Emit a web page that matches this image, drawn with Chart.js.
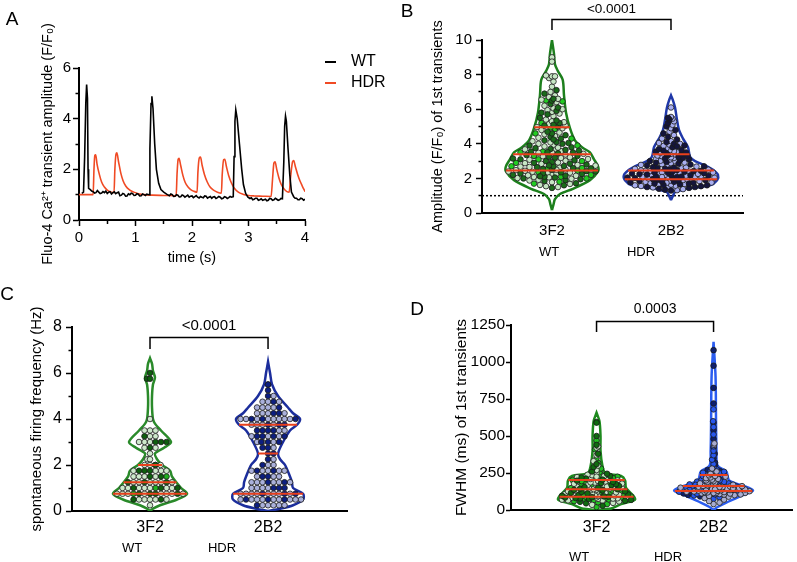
<!DOCTYPE html>
<html>
<head>
<meta charset="utf-8">
<script src="https://cdn.jsdelivr.net/npm/chart.js@4.4.1/dist/chart.umd.min.js"></script>
<style>
  body { margin: 0; background: #fff; }
  #wrap { position: relative; width: 797px; height: 562px; overflow: hidden; }
  canvas { position: absolute; }
</style>
</head>
<body>
<div id="wrap">
  <canvas id="cA" width="400" height="280" style="left:0;top:0"></canvas>
  <canvas id="cB" width="397" height="280" style="left:400px;top:0"></canvas>
  <canvas id="cC" width="400" height="282" style="left:0;top:280px"></canvas>
  <canvas id="cD" width="397" height="282" style="left:400px;top:280px"></canvas>
</div>
<script>
// ---------- panel A: example traces ----------
const wtTime = [0.05,0.08,0.10,0.12,0.135,0.15,0.16,0.17,0.2,0.225,0.25,0.275,0.3,0.325,0.35,0.375,0.4,0.425,0.45,0.475,0.5,0.525,0.55,0.575,0.6,0.625,0.65,0.675,0.7,0.725,0.75,0.775,0.8,0.825,0.85,0.875,0.9,0.925,0.95,0.975,1.0,1.025,1.05,1.075,1.1,1.125,1.15,1.175,1.2,1.24,1.255,1.275,1.29,1.31,1.34,1.37,1.41,1.45,1.5,1.55,1.6,1.625,1.65,1.675,1.7,1.725,1.75,1.775,1.8,1.825,1.85,1.875,1.9,1.925,1.95,1.975,2.0,2.025,2.05,2.075,2.1,2.125,2.15,2.175,2.2,2.225,2.25,2.275,2.3,2.325,2.35,2.375,2.4,2.425,2.45,2.475,2.5,2.525,2.55,2.575,2.6,2.625,2.65,2.675,2.7,2.73,2.745,2.76,2.775,2.8,2.84,2.88,2.91,2.95,2.99,3.025,3.05,3.075,3.1,3.125,3.15,3.175,3.2,3.225,3.25,3.275,3.3,3.325,3.35,3.375,3.4,3.425,3.45,3.475,3.5,3.525,3.55,3.575,3.6,3.625,3.64,3.655,3.67,3.7,3.73,3.76,3.8,3.825,3.85,3.875,3.9,3.925,3.95,3.975,4.0];
const wtAmp  = [1.05,1.1,2.5,4.6,5.35,4.8,2.0,1.25,1.2,1.14,1.12,1.06,1.08,1.16,1.1,1.04,1.06,1.12,1.08,1.14,1.05,1.1,1.12,1.03,1.08,1.11,1.04,1.08,1.1,0.96,0.98,1.05,1.02,0.94,0.95,1.03,1.0,1.06,1.04,0.97,0.98,1.04,1.02,0.95,0.96,1.03,1.0,0.97,1.02,1.0,2.8,4.6,4.88,4.4,3.0,2.0,1.45,1.2,1.1,1.02,0.96,1.03,1.0,0.93,0.94,1.0,0.98,0.91,0.92,0.99,0.96,0.9,0.94,0.98,0.9,0.94,0.95,0.88,0.92,0.96,0.9,0.87,0.93,0.9,0.88,0.95,0.94,0.86,0.9,0.93,0.86,0.91,0.92,0.85,0.88,0.93,0.9,0.84,0.86,0.92,0.9,0.85,0.88,0.93,0.9,0.92,2.5,3.9,4.35,4.0,3.0,2.0,1.4,1.05,0.9,0.85,0.88,0.8,0.82,0.86,0.86,0.78,0.8,0.84,0.78,0.8,0.82,0.76,0.78,0.85,0.84,0.78,0.8,0.86,0.82,0.78,0.8,0.85,0.84,2.3,3.7,4.1,3.9,2.8,1.8,1.1,0.92,0.86,0.86,0.8,0.8,0.86,0.84,0.78,0.82];
const hdrTime = [0,0.25,0.265,0.28,0.295,0.32,0.36,0.4,0.45,0.5,0.55,0.62,0.635,0.655,0.67,0.7,0.74,0.78,0.83,0.9,0.97,1.05,1.15,1.3,1.5,1.72,1.735,1.755,1.77,1.8,1.84,1.88,1.93,1.99,2.05,2.09,2.105,2.13,2.15,2.18,2.22,2.27,2.32,2.38,2.45,2.52,2.535,2.56,2.58,2.61,2.65,2.7,2.75,2.82,2.9,3.0,3.1,3.25,3.4,3.425,3.45,3.47,3.5,3.54,3.58,3.63,3.68,3.72,3.745,3.78,3.8,3.83,3.87,3.91,3.95,4.0];
const hdrAmp  = [1.0,1.0,2.0,2.55,2.57,2.2,1.8,1.5,1.3,1.18,1.12,1.08,2.0,2.6,2.65,2.3,1.85,1.55,1.33,1.18,1.1,1.04,1.0,0.98,0.97,0.96,1.8,2.4,2.44,2.15,1.75,1.48,1.3,1.18,1.12,1.1,1.9,2.45,2.48,2.15,1.8,1.5,1.3,1.18,1.1,1.06,1.8,2.38,2.4,2.1,1.75,1.45,1.25,1.1,1.02,0.97,0.95,0.94,0.93,1.6,2.25,2.3,2.0,1.65,1.4,1.22,1.12,1.1,1.7,2.3,2.35,2.1,1.8,1.55,1.35,1.12];

const groupNames = ['3F2', '2B2'];

// ---------- panel B: amplitude of 1st transients ----------
const ampWtDark = [1.45,1.6,1.72,1.85,1.9,2.0,2.05,2.1,2.15,2.2,2.25,2.3,2.35,2.4,2.42,1.95,2.12,2.28,
  2.5,2.55,2.6,2.65,2.7,2.72,2.8,2.85,2.9,2.95,3.0,3.05,3.1,3.2,3.25,3.3,3.35,2.58,2.75,3.15,
  3.45,3.5,3.55,3.6,3.7,3.75,3.8,3.9,4.0,4.1,4.2,4.3,4.4,4.5,4.6,4.7,3.52,3.65,4.05,4.25,
  5.0,5.1,5.2,5.35,5.5,5.7,5.9,6.1,6.3,6.5,6.6,6.9,7.1,5.05,5.8];
const ampWtPale = [1.5,1.55,1.68,1.78,1.88,1.98,2.02,2.08,2.18,2.22,2.3,2.38,2.44,1.62,2.15,2.33,2.26,1.92,2.06,2.4,
  2.48,2.52,2.62,2.68,2.74,2.78,2.88,2.92,3.02,3.08,3.12,3.18,3.28,3.38,2.5,2.66,2.84,3.22,
  3.42,3.48,3.58,3.62,3.68,3.78,3.85,3.95,4.08,4.15,4.35,4.45,4.55,4.65,4.8,4.9,3.5,4.0,
  4.97,5.05,5.15,5.25,5.4,5.6,5.75,5.85,5.95,6.05,6.2,6.4,6.55,6.7,6.8,7.0,7.3,7.6,7.8,7.9,7.95,7.9,9.0,8.75,6.6,5.3,6.0];
const ampWtBright = [1.8,2.1,2.36,2.2,1.7,2.44,2.0,2.6,2.9,3.3,2.7,3.1,2.55,3.0,3.55,3.5,4.3,4.85,3.9,4.6,4.95,5.2,6.5,6.45];
const ampHdrDark = [1.3,1.35,1.4,1.45,1.5,1.55,1.6,1.65,1.7,1.75,1.8,1.85,1.9,1.92,1.62,1.78,1.88,1.5,1.7,1.82,
  1.96,2.0,2.02,2.05,2.08,2.1,2.12,2.15,2.18,2.2,2.22,2.25,2.28,2.3,2.32,2.35,2.38,2.4,2.42,2.44,
  2.48,2.52,2.56,2.6,2.65,2.7,2.75,2.8,2.85,2.9,2.95,3.0,3.05,3.1,3.15,3.2,3.25,3.3,3.35,2.62,
  3.4,3.45,3.5,3.55,3.6,3.7,3.8,3.9,4.0,4.1,4.25,4.4,4.6,4.8,5.0,5.2,5.4,5.5,3.65,3.85];
const ampHdrLav = [1.32,1.42,1.48,1.52,1.58,1.64,1.68,1.72,1.76,1.8,1.84,1.86,1.9,1.94,1.6,1.74,1.66,1.56,1.38,1.93,
  1.98,2.0,2.04,2.06,2.1,2.12,2.14,2.16,2.2,2.22,2.24,2.26,2.28,2.3,2.34,2.36,2.4,2.42,2.44,2.08,
  2.46,2.5,2.55,2.58,2.63,2.68,2.72,2.78,2.82,2.88,2.92,2.98,3.02,3.08,3.12,3.18,3.22,3.28,3.32,3.38,
  3.42,3.48,3.52,3.58,3.62,3.75,3.88,3.95,4.05,4.15,4.3,4.5,4.7,4.9,5.1,5.3,5.45,5.55,6.1,4.0];
const ampWtQuart = [2.45, 3.4, 4.95];
const ampHdrQuart = [1.95, 2.45, 3.39];
const ampWtViolinY = [0.17,0.5,0.8,1.1,1.4,1.9,2.4,2.7,3.1,3.5,3.8,4.2,4.9,5.8,6.8,7.7,8.2,8.6,9.2,10];
const ampWtViolinW = [0,0.013,0.025,0.067,0.176,0.319,0.387,0.387,0.353,0.319,0.252,0.193,0.151,0.118,0.101,0.09,0.05,0.025,0.017,0];
const ampHdrViolinY = [0.75,1.0,1.2,1.4,1.6,1.9,2.2,2.5,2.7,3.0,3.25,3.8,4.3,4.8,5.4,6.1,6.5,6.8];
const ampHdrViolinW = [0,0.017,0.034,0.134,0.328,0.387,0.395,0.353,0.303,0.202,0.16,0.143,0.101,0.067,0.05,0.034,0.017,0];

// ---------- panel C: spontaneous firing frequency ----------
const freqWtDark = [0.5,0.5,0.75,0.75,0.75,0.75,1,1,1,1.25,1.25,1.25,1.5,1.5,1.75,1.75,1.75,2,2.75,3,3,3,3.25,5.75,5.75,6];
const freqWtBright = [0.75,1,1.5];
const freqWtPale = [0.25,0.5,0.5,0.5,0.5,0.5,0.75,0.75,0.75,0.75,0.75,0.75,0.75,0.75,1,1,1,1,1,1,1,
  1.25,1.25,1.25,1.25,1.25,1.25,1.5,1.5,1.5,1.5,1.75,1.75,1.75,1.75,2,2,2,2,2.25,2.25,2.5,2.75,2.75,
  3,3,3,3.25,3.25,3.5,3.5,3.5,4];
const freqHdrNavy = [0.25,0.5,0.5,0.5,0.75,0.75,0.75,1,1,1,1.25,1.25,1.5,1.5,1.75,1.75,2,2.25,2.5,2.5,2.75,2.75,
  3,3,3,3.25,3.25,3.25,3.25,3.5,3.5,3.5,3.5,3.75,3.75,3.75,4,4,4,4.25,4.25,4.5,4.75,5,5.25,5.5,5.5];
const freqHdrLav = [0.25,0.25,0.25,0.25,0.25,0.5,0.5,0.5,0.5,0.5,0.5,0.5,0.5,0.5,0.75,0.75,0.75,0.75,0.75,0.75,0.75,0.75,
  1,1,1,1,1.25,1.25,1.25,1.25,1.25,1.25,1.5,1.5,1.5,1.75,1.75,1.75,1.75,1.75,2,2,2.25,2.75,
  3,3,3,3.25,3.25,3.25,3.5,3.5,3.75,3.75,3.75,3.75,4,4,4,4,4,4,4,4,4.25,4.25,4.25,4.25,4.5,4.5,4.5,4.5,4.75,4.75,4.75,5];
const freqWtQuart = [0.75, 1.25, 2.0];
const freqHdrQuart = [0.75, 2.5, 3.75];
const freqWtViolinY = [0,0.1,0.25,0.5,0.75,1.0,1.5,1.75,2.0,2.25,2.5,2.75,3.0,3.5,3.8,4.0,4.5,5.0,5.5,5.8,6.1,6.4,6.64];
const freqWtViolinW = [0,0.025,0.085,0.229,0.314,0.263,0.186,0.17,0.102,0.059,0.042,0.119,0.178,0.093,0.042,0.025,0.017,0.017,0.025,0.042,0.025,0.017,0];
const freqHdrViolinY = [0,0.1,0.25,0.5,0.75,1.0,1.25,1.5,2.0,2.25,2.5,3.0,3.5,3.75,4.0,4.25,4.5,5.0,5.5,6.0,6.49];
const freqHdrViolinW = [0,0.102,0.212,0.297,0.297,0.212,0.203,0.186,0.144,0.102,0.085,0.127,0.186,0.246,0.271,0.212,0.169,0.085,0.034,0.017,0];

// ---------- panel D: FWHM of 1st transients ----------
const fwhmWtDark = [28,45,55,62,68,74,78,81,84,87,90,92,96,102,106,112,116,122,126,132,136,140,144,150,155,162,168,175,182,190,198,205,212,220,230,245,260,290,310,380,440,500,590];
const fwhmWtBright = [20,40,52,60,66,72,76,80,83,86,89,91,95,100,105,110,115,120,125,130,135,139,142,148,154,160,165,172,180,188,195,202,208,218,225,240,255,280,320,350,410,470,595,215];
const fwhmWtPale = [35,48,58,64,70,75,79,82,85,88,65,77,84,94,98,104,108,114,118,124,128,134,138,97,103,111,119,127,133,
  141,145,147,152,157,164,170,178,185,192,200,146,158,167,177,187,196,201,210,215,222,228,235,250,270,300,330,370,420,430,225,238];
const fwhmHdrLav = [40,50,60,70,80,90,95,100,104,108,111,113,115,117,119,121,123,125,127,105,115,121,
  129,131,133,135,137,139,141,143,145,147,149,151,153,155,157,159,161,132,140,148,156,
  163,167,171,175,180,185,190,195,200,205,210,215,220,225,230,234,245,260,280,440,450];
const fwhmHdrBlue = [75,85,98,106,110,116,120,124,128,109,118,124,130,134,138,142,146,150,154,158,162,136,144,152,160,
  165,169,173,177,182,188,192,198,203,208,212,218,222,228,232,236,170,180,190,200,210,220,230,175,185,195,
  238,242,248,252,258,262,268,275,290,310,340,370,400,430,510,560,600,680,255];
const fwhmHdrNavy = [92,102,112,114,122,126,240,250,265,270,300,320,350,380,420,480,540,590,720,825,975,1080];
const fwhmWtQuart = [90, 140, 203];
const fwhmHdrQuart = [128, 162, 236];
const fwhmWtViolinY = [0,5,10,40,70,100,150,200,230,250,300,400,500,600,657];
const fwhmWtViolinW = [0,0.067,0.126,0.21,0.328,0.311,0.252,0.244,0.21,0.076,0.05,0.034,0.034,0.025,0];
const fwhmHdrViolinY = [0,20,50,100,130,150,200,260,300,400,600,900,1137];
const fwhmHdrViolinW = [0,0.034,0.109,0.252,0.336,0.303,0.134,0.109,0.034,0.025,0.021,0.017,0];

// ---------- drawing ----------
const FONT = '"Liberation Sans", Arial, Helvetica, sans-serif';
const RED = '#e8401c';
Chart.defaults.font.family = FONT;
Chart.defaults.color = '#000';

// texts, legend lines and significance bracket
const annot = {
  id: 'annot',
  afterDraw(chart, args, o) {
    const ctx = chart.ctx;
    ctx.save();
    (o.lines || []).forEach(l => {
      ctx.strokeStyle = l.color; ctx.lineWidth = l.width;
      ctx.beginPath(); ctx.moveTo(l.x1, l.y1); ctx.lineTo(l.x2, l.y2); ctx.stroke();
    });
    (o.texts || []).forEach(t => {
      ctx.font = t.size + 'px ' + FONT;
      ctx.fillStyle = '#000';
      ctx.textAlign = t.align || 'center';
      ctx.textBaseline = 'middle';
      ctx.fillText(t.text, t.x, t.y);
    });
    if (o.bracket) {
      const b = o.bracket, xs = chart.scales.x, ys = chart.scales.y;
      const x1 = xs.getPixelForValue(1), x2 = xs.getPixelForValue(2);
      const yt = Math.round(ys.getPixelForValue(b.top)) + 0.5, yl = ys.getPixelForValue(b.leg);
      ctx.strokeStyle = '#000'; ctx.lineWidth = 1.5;
      ctx.beginPath(); ctx.moveTo(x1, yl); ctx.lineTo(x1, yt); ctx.lineTo(x2, yt); ctx.lineTo(x2, yl); ctx.stroke();
      ctx.font = b.size + 'px ' + FONT;
      ctx.fillStyle = '#000'; ctx.textAlign = 'center'; ctx.textBaseline = 'alphabetic';
      ctx.fillText(b.text, (x1 + x2) / 2, yt - b.gap);
    }
    ctx.restore();
  }
};
Chart.register(annot);

function pts(xs, ys) { return xs.map((x, i) => ({x, y: ys[i]})); }

// panel A
new Chart(document.getElementById('cA'), {
  type: 'scatter',
  data: {
    datasets: [
      { data: pts(wtTime, wtAmp), showLine: true, pointRadius: 0, borderColor: '#000', borderWidth: 1.6, tension: 0, order: 0 },
      { data: pts(hdrTime, hdrAmp), showLine: true, pointRadius: 0, borderColor: '#f04a24', borderWidth: 1.6, cubicInterpolationMode: 'monotone', order: 1 }
    ]
  },
  options: {
    responsive: false, animation: false, events: [],
    layout: { padding: { left: 39, top: 68, right: 95, bottom: 13 } },
    plugins: {
      legend: { display: false }, tooltip: { enabled: false },
      annot: {
        texts: [
          { text: 'A', x: 12, y: 20, size: 19 },
          { text: 'WT', x: 351, y: 62, size: 16, align: 'left' },
          { text: 'HDR', x: 351, y: 83, size: 16, align: 'left' }
        ],
        lines: [
          { x1: 325, y1: 62, x2: 336, y2: 62, color: '#000', width: 2 },
          { x1: 325, y1: 83, x2: 336, y2: 83, color: '#f04a24', width: 2 }
        ]
      }
    },
    scales: {
      x: {
        type: 'linear', min: 0, max: 4,
        afterFit: s => { s.height = 47; },
        ticks: { stepSize: 0.5, autoSkip: false, maxRotation: 0, font: { size: 15 }, padding: 3,
                 callback: v => Number.isInteger(v) ? v : '' },
        grid: { drawOnChartArea: false, tickLength: 6, tickColor: '#000', tickWidth: 1.5,
                tickBorderDash: c => (c.tick && !Number.isInteger(c.tick.value)) ? [3, 20] : [] },
        border: { color: '#000', width: 2 },
        title: { display: true, text: 'time (s)', font: { size: 14.5 }, padding: 0 }
      },
      y: {
        min: 0, max: 6,
        afterFit: s => { s.width = 40; },
        ticks: { stepSize: 1, autoSkip: false, font: { size: 15 }, padding: 2,
                 callback: v => v % 2 ? '' : v },
        grid: { drawOnChartArea: false, tickLength: 6, tickColor: '#000', tickWidth: 1.5,
                tickBorderDash: c => (c.tick && c.tick.value % 2) ? [0, 2.5, 3, 20] : [] },
        border: { color: '#000', width: 2 },
        title: { display: true, text: 'Fluo-4 Ca²⁺ transient amplitude (F/F₀)', font: { size: 14.5 }, padding: 0 }
      }
    }
  }
});

function widthAt(vy, vw, v) {
  if (v <= vy[0] || v >= vy[vy.length - 1]) return 0;
  for (let i = 1; i < vy.length; i++) {
    if (v <= vy[i]) {
      const f = (v - vy[i - 1]) / (vy[i] - vy[i - 1]);
      return vw[i - 1] + f * (vw[i] - vw[i - 1]);
    }
  }
  return 0;
}

// spread the dots sideways inside each violin, in pixels of the chart's own scales
function swarm(chart, groups, sw) {
  const xs = chart.scales.x, ys = chart.scales.y;
  const ppu = xs.getPixelForValue(2) - xs.getPixelForValue(1);
  groups.forEach(g => {
    const items = [];
    g.idx.forEach(di => chart.data.datasets[di].data.forEach((pt, j) => {
      items.push({ pt, v: pt.y, py: ys.getPixelForValue(pt.y), key: (j * 7 + di * 3) % 11 });
    }));
    items.sort((a, b) => a.v - b.v || a.key - b.key);
    const placed = [];
    items.forEach(it => {
      const lim = Math.max(0, widthAt(g.vy, g.vw, it.v) * ppu - sw.inset);
      let dx = null;
      for (const md of [sw.dist, sw.dist * 0.7, sw.dist * 0.4]) {
        for (let k = 0; ; k++) {
          const m = Math.ceil(k / 2) * sw.step;
          if (m > lim) break;
          const off = k % 2 ? m : -m;
          let ok = true;
          for (const q of placed) {
            const dy = q.py - it.py;
            if (Math.abs(dy) < md && Math.hypot(q.dx - off, dy) < md) { ok = false; break; }
          }
          if (ok) { dx = off; break; }
        }
        if (dx !== null) break;
      }
      if (dx === null) dx = ((placed.length % 5) - 2) * lim / 2;
      placed.push({ dx, py: it.py });
      it.pt.x = g.center + dx / ppu;
    });
  });
  chart.update('none');
}

function violinChart(id, p) {
  const datasets = [];
  const groups = [];
  p.groups.forEach((g, gi) => {
    const center = gi + 1;
    g.quart.forEach(q => {
      const w = widthAt(g.vy, g.vw, q);
      datasets.push({ data: [{ x: center - w, y: q }, { x: center + w, y: q }], showLine: true,
        pointRadius: 0, borderColor: RED, borderWidth: 2, order: 0 });
    });
    const idx = [];
    g.sets.forEach(s => {
      idx.push(datasets.length);
      datasets.push({ data: s.values.map(v => ({ x: center, y: v })), showLine: false,
        pointRadius: p.r, pointBackgroundColor: s.color, pointBorderColor: '#1b1b1b',
        pointBorderWidth: 0.8, order: 1 });
    });
    groups.push({ center, vy: g.vy, vw: g.vw, idx });
    const outline = g.vy.map((y, i) => ({ x: center + g.vw[i], y }))
      .concat(g.vy.map((y, i) => ({ x: center - g.vw[i], y })).reverse());
    datasets.push({ data: outline, showLine: true, pointRadius: 0, borderColor: g.vcolor,
      borderWidth: 2.5, tension: 0.3, order: 5 });
  });
  if (p.refLine != null) {
    datasets.push({ data: [{ x: p.xMin, y: p.refLine }, { x: p.xMax, y: p.refLine }], showLine: true,
      pointRadius: 0, borderColor: '#000', borderWidth: 1.5, borderDash: [2, 2], order: 6 });
  }
  const chart = new Chart(document.getElementById(id), {
    type: 'scatter',
    data: { datasets },
    options: {
      responsive: false, animation: false, events: [],
      layout: { padding: p.pad },
      plugins: { legend: { display: false }, tooltip: { enabled: false }, annot: p.annot },
      scales: {
        x: {
          type: 'linear', min: p.xMin, max: p.xMax,
          afterFit: s => { s.height = p.xH; },
          afterBuildTicks: s => { s.ticks = [{ value: 1 }, { value: 2 }]; },
          ticks: { font: { size: p.xFont }, padding: p.xPad, maxRotation: 0, callback: v => groupNames[v - 1] },
          grid: { display: false, drawTicks: false },
          border: { color: '#000', width: 2 }
        },
        y: {
          min: 0, max: p.yMax,
          afterFit: s => { s.width = p.yW; },
          ticks: { stepSize: p.yStep, autoSkip: false, font: { size: p.yFont }, padding: p.yPad,
                   callback: v => (p.yMajor && v % p.yMajor) ? '' : v },
          grid: { drawOnChartArea: false, tickLength: p.tl, tickColor: '#000', tickWidth: 1.5,
                  tickBorderDash: c => (p.yMajor && c.tick && c.tick.value % p.yMajor) ? [0, 2.5, 3, 20] : [] },
          border: { color: '#000', width: 2 },
          title: { display: true, text: p.yTitle, font: { size: p.titleFont }, padding: 0 }
        }
      }
    }
  });
  swarm(chart, groups, p.swarm);
  return chart;
}

// panel B
violinChart('cB', {
  pad: { left: 29, top: 40, right: 54, bottom: 0 },
  xMin: 0.412, xMax: 2.605, xH: 67, xFont: 15, xPad: 9,
  yMax: 10, yStep: 1, yMajor: 2, yW: 53, yFont: 15, yPad: 4, tl: 6,
  yTitle: 'Amplitude (F/F₀) of 1st transients', titleFont: 14.5,
  r: 2.8, refLine: 1,
  swarm: { step: 1.5, dist: 5.2, inset: 2 },
  groups: [
    { vy: ampWtViolinY, vw: ampWtViolinW, vcolor: '#1d7f1d', quart: ampWtQuart,
      sets: [{ values: ampWtDark, color: '#1a6b1a' }, { values: ampWtPale, color: '#c6e6c4' }, { values: ampWtBright, color: '#22cc22' }] },
    { vy: ampHdrViolinY, vw: ampHdrViolinW, vcolor: '#2038a8', quart: ampHdrQuart,
      sets: [{ values: ampHdrDark, color: '#15153c' }, { values: ampHdrLav, color: '#a8aef0' }] }
  ],
  annot: {
    texts: [
      { text: 'B', x: 7, y: 12, size: 19 },
      { text: 'WT', x: 149, y: 252, size: 13 },
      { text: 'HDR', x: 241, y: 252, size: 13 }
    ],
    bracket: { top: 11.21, leg: 10.58, text: '<0.0001', size: 13.5, gap: 7 }
  }
});

// panel C
violinChart('cC', {
  pad: { left: 28, top: 47, right: 53, bottom: 0 },
  xMin: 0.339, xMax: 2.669, xH: 51, xFont: 16, xPad: 7,
  yMax: 8, yStep: 1, yMajor: 2, yW: 44, yFont: 16, yPad: 4, tl: 6,
  yTitle: 'spontaneous firing frequency (Hz)', titleFont: 15,
  r: 2.8, refLine: null,
  swarm: { step: 5.5, dist: 5.5, inset: 1.5 },
  groups: [
    { vy: freqWtViolinY, vw: freqWtViolinW, vcolor: '#2a8a2a', quart: freqWtQuart,
      sets: [{ values: freqWtDark, color: '#0e5e0e' }, { values: freqWtPale, color: '#cde8cb' }, { values: freqWtBright, color: '#20b020' }] },
    { vy: freqHdrViolinY, vw: freqHdrViolinW, vcolor: '#1c2e9c', quart: freqHdrQuart,
      sets: [{ values: freqHdrNavy, color: '#0d1e80' }, { values: freqHdrLav, color: '#aab0da' }] }
  ],
  annot: {
    texts: [
      { text: 'C', x: 7, y: 15, size: 19 },
      { text: 'WT', x: 132, y: 268, size: 13 },
      { text: 'HDR', x: 222, y: 268, size: 13 }
    ],
    bracket: { top: 7.57, leg: 7.04, text: '<0.0001', size: 15, gap: 8 }
  }
});

// panel D
violinChart('cD', {
  pad: { left: 52, top: 45, right: 0, bottom: 0 },
  xMin: 0.269, xMax: 2.672, xH: 52, xFont: 16, xPad: 8,
  yMax: 1250, yStep: 250, yMajor: 0, yW: 59, yFont: 15.5, yPad: 1, tl: 5,
  yTitle: 'FWHM (ms) of 1st transients', titleFont: 15.5,
  r: 2.8, refLine: null,
  swarm: { step: 1.5, dist: 4.8, inset: 2 },
  groups: [
    { vy: fwhmWtViolinY, vw: fwhmWtViolinW, vcolor: '#1e8a1e', quart: fwhmWtQuart,
      sets: [{ values: fwhmWtDark, color: '#0f6a0f' }, { values: fwhmWtPale, color: '#c8e8c6' }, { values: fwhmWtBright, color: '#22c022' }] },
    { vy: fwhmHdrViolinY, vw: fwhmHdrViolinW, vcolor: '#2a5cf0', quart: fwhmHdrQuart,
      sets: [{ values: fwhmHdrLav, color: '#a8acd0' }, { values: fwhmHdrBlue, color: '#2857ee' }, { values: fwhmHdrNavy, color: '#0e1f70' }] }
  ],
  annot: {
    texts: [
      { text: 'D', x: 17, y: 30, size: 19 },
      { text: 'WT', x: 179, y: 277, size: 13 },
      { text: 'HDR', x: 268, y: 277, size: 13 }
    ],
    bracket: { top: 1277, leg: 1203, text: '0.0003', size: 14, gap: 9 }
  }
});
</script>
</body>
</html>
